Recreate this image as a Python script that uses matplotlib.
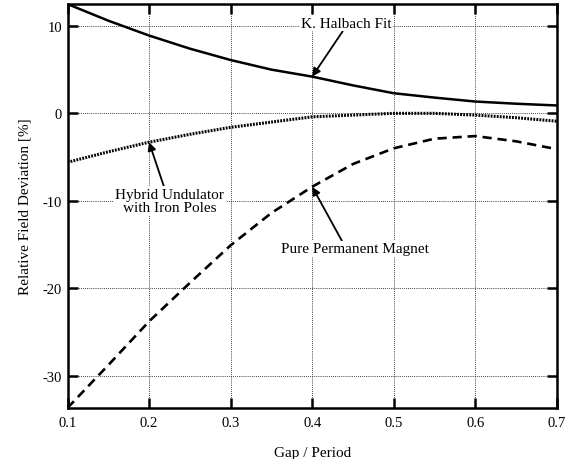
import numpy as np
import matplotlib
matplotlib.use("Agg")
from matplotlib import pyplot as plt

plt.rcParams['font.family'] = ['Liberation Serif', 'DejaVu Serif']

gap = [0.10, 0.15, 0.20, 0.25, 0.30, 0.35, 0.40, 0.45, 0.50, 0.55, 0.60, 0.65, 0.70]
halbach = [12.5, 10.6, 8.9, 7.4, 6.1, 5.0, 4.2, 3.2, 2.3, 1.8, 1.35, 1.1, 0.9]
hybrid = [-5.6, -4.4, -3.3, -2.4, -1.6, -1.0, -0.4, -0.2, 0.0, 0.0, -0.2, -0.5, -0.9]
pure_pm = [-33.7, -28.8, -23.8, -19.4, -15.1, -11.4, -8.4, -5.8, -4.0, -2.9, -2.6, -3.2, -4.1]

xticks = [0.1, 0.2, 0.3, 0.4, 0.5, 0.6, 0.7]
yticks = [-30, -20, -10, 0, 10]

fig = plt.figure(figsize=(5.77, 4.60), dpi=100)
ax = fig.add_axes([0.117, 0.111, 0.848, 0.878])

ax.plot(gap, halbach, color='black', lw=1.8, solid_capstyle='butt')
ax.plot(gap, hybrid, color='black', lw=2.2, linestyle=(0, (0.6, 0.4)))
ax.plot(gap, pure_pm, color='black', lw=1.9, linestyle=(0, (3.5, 2.2)))

ax.set_xlim(0.1, 0.7)
ax.set_ylim(-33.7, 12.5)
ax.set_xticks(xticks)
ax.set_yticks(yticks)
ax.set_xticklabels(['0.1', '0.2', '0.3', '0.4', '0.5', '0.6', '0.7'])
ax.set_yticklabels(['-30', '-20', '-10', '0', '10'])
ax.grid(True, color='black', lw=0.6, linestyle=(0, (1, 1.5)))
ax.tick_params(direction='in', length=7, width=1.8, top=True, right=True,
               labelsize=10.5, colors='black')
ax.tick_params(axis='x', pad=6)
ax.tick_params(axis='y', pad=4)
for s in ax.spines.values():
    s.set_linewidth(1.8)

ax.set_xlabel('Gap / Period', fontsize=11, labelpad=12)
ax.set_ylabel('Relative Field Deviation [%]', fontsize=11, labelpad=8)

arrow = dict(arrowstyle='-|>', color='black', lw=1.3, mutation_scale=12,
             shrinkA=0, shrinkB=0)
bbox = dict(boxstyle='square,pad=0.1', fc='white', ec='none')

ax.annotate('K. Halbach Fit', xy=(0.4, halbach[6]), xytext=(0.442, 10.3),
            ha='center', va='center', fontsize=11, bbox=bbox,
            arrowprops=dict(arrow, relpos=(0.47, 0.0)))
ax.annotate('Hybrid Undulator\nwith Iron Poles', xy=(0.2, hybrid[2]),
            xytext=(0.2255, -10.0), ha='center', va='center', fontsize=11,
            linespacing=0.95, bbox=bbox,
            arrowprops=dict(arrow, relpos=(0.45, 1.0)))
ax.annotate('Pure Permanent Magnet', xy=(0.4, pure_pm[6]),
            xytext=(0.452, -15.5), ha='center', va='center', fontsize=11,
            bbox=bbox, arrowprops=dict(arrow, relpos=(0.42, 1.0)))

fig.savefig('out.png', dpi=100, facecolor='white')
